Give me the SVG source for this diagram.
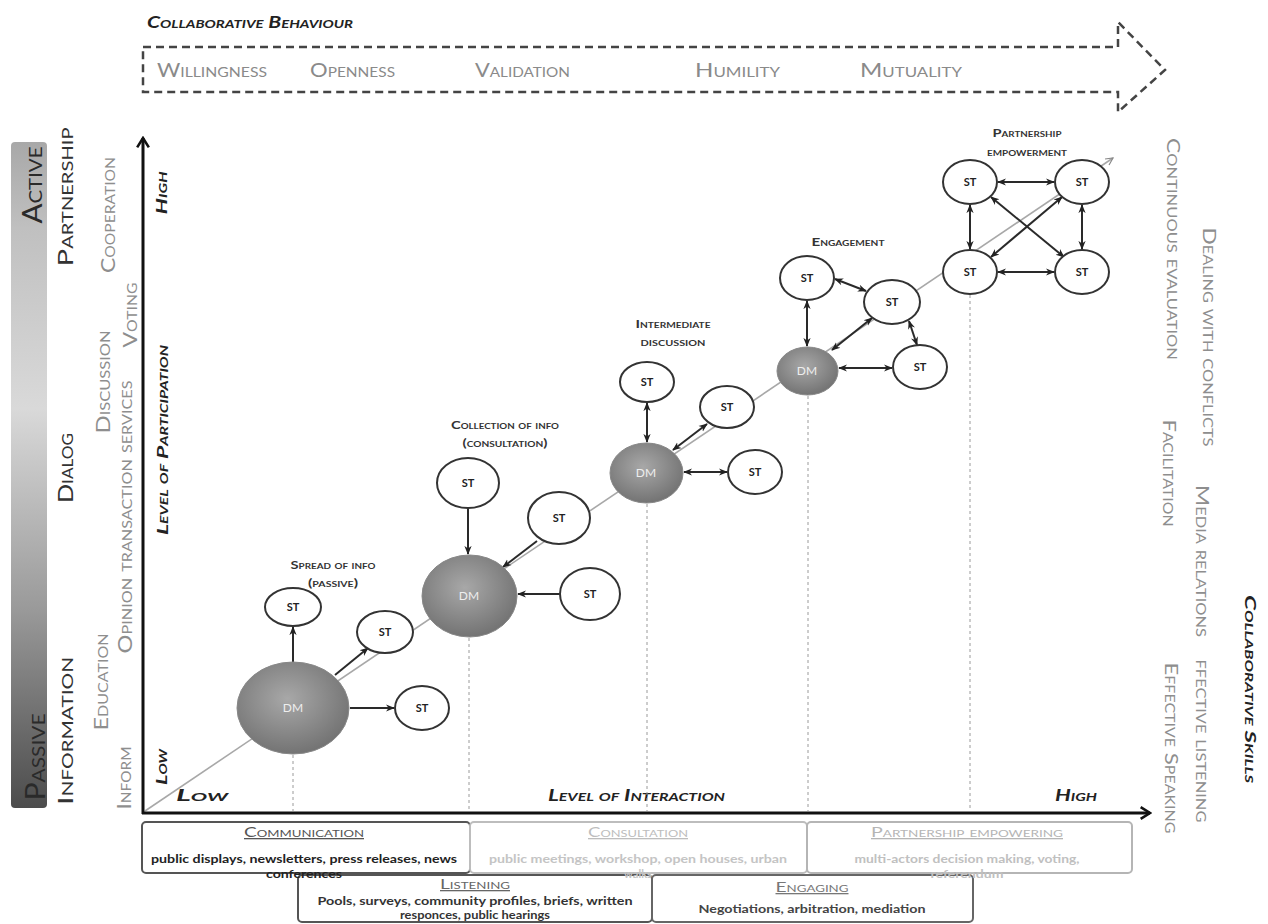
<svg xmlns="http://www.w3.org/2000/svg" width="1268" height="924" viewBox="0 0 1268 924">
<style>
text { font-family: Lato, 'Liberation Sans', sans-serif; }
.sc { font-variant: small-caps; }
.big { font-size: 26px; fill: #2a2a2a; }
.lvl { font-size: 22px; fill: #333; }
.g1 { font-size: 19px; fill: #8e8e8e; }
.rs { font-size: 18px; fill: #8e8e8e; }
.bi { font-weight: bold; font-style: italic; fill: #222; }
.top { font-size: 20px; fill: #8a8a8a; }
.nl { font-size: 12px; font-weight: bold; fill: #333; }
.st { font-size: 11px; font-weight: bold; fill: #222; }
.dm { font-size: 12px; fill: #eeeeee; }
.stn { fill: #fff; stroke: #333; stroke-width: 2; }
.dmn { fill: url(#dmg); stroke: #888; stroke-width: 1; }
.c { stroke: #2a2a2a; stroke-width: 2; fill: none; }
.cs { marker-end: url(#ah); }
.cd { marker-start: url(#ah); marker-end: url(#ah); }
.dot { stroke: #9a9a9a; stroke-width: 1; stroke-dasharray: 3 3; fill: none; }
.bt { font-size: 13px; text-decoration: underline; }
.bb { font-size: 11px; font-weight: bold; }
</style>
<defs>
<linearGradient id="barg" x1="0" y1="0" x2="0" y2="1">
<stop offset="0" stop-color="#a8a8a8"/>
<stop offset="0.13" stop-color="#c0c0c0"/>
<stop offset="0.4" stop-color="#d9d9d9"/>
<stop offset="0.7" stop-color="#9a9a9a"/>
<stop offset="1" stop-color="#4c4c4c"/>
</linearGradient>
<radialGradient id="dmg" cx="0.45" cy="0.4" r="0.65">
<stop offset="0" stop-color="#a8a8a8"/>
<stop offset="1" stop-color="#6f6f6f"/>
</radialGradient>
<marker id="ah" viewBox="0 0 10 10" refX="9" refY="5" markerWidth="9" markerHeight="9" markerUnits="userSpaceOnUse" orient="auto-start-reverse">
<path d="M0,1 L10,5 L0,9 L3,5 z" fill="#222"/>
</marker>
<marker id="ax" viewBox="0 0 12 12" refX="10" refY="6" markerWidth="14" markerHeight="14" markerUnits="userSpaceOnUse" orient="auto">
<path d="M2,1 L10,6 L2,11" fill="none" stroke="#111" stroke-width="2.2"/>
</marker>
<marker id="dg" viewBox="0 0 10 10" refX="9" refY="5" markerWidth="9" markerHeight="9" markerUnits="userSpaceOnUse" orient="auto">
<path d="M1,1 L9,5 L1,9" fill="none" stroke="#888" stroke-width="1.3"/>
</marker>
</defs>

<rect width="1268" height="924" fill="#fff"/>

<!-- Collaborative behaviour arrow -->
<g id="behaviour">
<text x="147" y="28" class="bi sc" font-size="17" textLength="206" lengthAdjust="spacingAndGlyphs">Collaborative Behaviour</text>
<path d="M143,47 L1118,47 L1118,22 L1165,70 L1118,112 L1118,92 L143,92 Z" fill="none" stroke="#444" stroke-width="2.5" stroke-dasharray="8 5"/>
<text x="157" y="77" class="top sc" textLength="110" lengthAdjust="spacingAndGlyphs">Willingness</text>
<text x="310" y="77" class="top sc" textLength="85" lengthAdjust="spacingAndGlyphs">Openness</text>
<text x="475" y="77" class="top sc" textLength="95" lengthAdjust="spacingAndGlyphs">Validation</text>
<text x="695" y="77" class="top sc" textLength="85" lengthAdjust="spacingAndGlyphs">Humility</text>
<text x="860" y="77" class="top sc" textLength="102" lengthAdjust="spacingAndGlyphs">Mutuality</text>
</g>

<!-- Left side -->
<g id="left-bar">
<rect x="11" y="142" width="36" height="666" rx="4" fill="url(#barg)"/>
<text transform="translate(42,185) rotate(-90)" text-anchor="middle" class="big sc" textLength="77" lengthAdjust="spacingAndGlyphs">Active</text>
<text transform="translate(45,757) rotate(-90)" text-anchor="middle" class="big sc" textLength="87" lengthAdjust="spacingAndGlyphs">Passive</text>
</g>
<g id="left-levels">
<text transform="translate(73,197) rotate(-90)" text-anchor="middle" class="lvl sc" textLength="139" lengthAdjust="spacingAndGlyphs">Partnership</text>
<text transform="translate(73,468) rotate(-90)" text-anchor="middle" class="lvl sc" textLength="70" lengthAdjust="spacingAndGlyphs">Dialog</text>
<text transform="translate(73,731) rotate(-90)" text-anchor="middle" class="lvl sc" textLength="148" lengthAdjust="spacingAndGlyphs">Information</text>
</g>
<g id="left-activities">
<text transform="translate(115,215) rotate(-90)" text-anchor="middle" class="g1 sc" textLength="116" lengthAdjust="spacingAndGlyphs">Cooperation</text>
<text transform="translate(137,315) rotate(-90)" text-anchor="middle" class="g1 sc" textLength="65" lengthAdjust="spacingAndGlyphs">Voting</text>
<text transform="translate(110,382) rotate(-90)" text-anchor="middle" class="g1 sc" textLength="103" lengthAdjust="spacingAndGlyphs">Discussion</text>
<text transform="translate(132,517) rotate(-90)" text-anchor="middle" class="g1 sc" textLength="273" lengthAdjust="spacingAndGlyphs">Opinion transaction services</text>
<text transform="translate(108,682) rotate(-90)" text-anchor="middle" class="g1 sc" textLength="97" lengthAdjust="spacingAndGlyphs">Education</text>
<text transform="translate(131,778) rotate(-90)" text-anchor="middle" class="g1 sc" textLength="63" lengthAdjust="spacingAndGlyphs">Inform</text>
</g>

<!-- Axes -->
<g id="axes">
<line x1="145" y1="811" x2="1113" y2="158" stroke="#a8a8a8" stroke-width="1.6" marker-end="url(#dg)"/>
<line x1="143" y1="814" x2="143" y2="138" stroke="#111" stroke-width="3" marker-end="url(#ax)"/>
<line x1="142" y1="813" x2="1150" y2="813" stroke="#111" stroke-width="3" marker-end="url(#ax)"/>
<text transform="translate(167,193) rotate(-90)" text-anchor="middle" class="bi sc" font-size="16" textLength="43" lengthAdjust="spacingAndGlyphs">High</text>
<text transform="translate(168,440) rotate(-90)" text-anchor="middle" class="bi sc" font-size="16" textLength="190" lengthAdjust="spacingAndGlyphs">Level of Participation</text>
<text transform="translate(167,767) rotate(-90)" text-anchor="middle" class="bi sc" font-size="16" textLength="36" lengthAdjust="spacingAndGlyphs">Low</text>
<text x="176" y="801" class="bi sc" font-size="17" textLength="52" lengthAdjust="spacingAndGlyphs">Low</text>
<text x="548" y="801" class="bi sc" font-size="17" textLength="177" lengthAdjust="spacingAndGlyphs">Level of Interaction</text>
<text x="1055" y="801" class="bi sc" font-size="17" textLength="42" lengthAdjust="spacingAndGlyphs">High</text>
</g>

<!-- dotted guides -->
<g id="guides">
<line class="dot" x1="293" y1="755" x2="293" y2="811"/>
<line class="dot" x1="469" y1="638" x2="469" y2="811"/>
<line class="dot" x1="647" y1="504" x2="647" y2="811"/>
<line class="dot" x1="808" y1="396" x2="808" y2="811"/>
<line class="dot" x1="970" y1="295" x2="970" y2="811"/>
</g>

<!-- Connectors -->
<g id="connectors">
<line class="c cs" x1="293" y1="662" x2="293" y2="627"/>
<line class="c cs" x1="335" y1="675" x2="368" y2="648"/>
<line class="c cs" x1="350" y1="708" x2="394" y2="708"/>
<line class="c cs" x1="468" y1="508" x2="468" y2="554"/>
<line class="c cs" x1="537" y1="541" x2="503" y2="567"/>
<line class="c cs" x1="560" y1="594" x2="518" y2="594"/>
<line class="c cd" x1="647" y1="403" x2="647" y2="442"/>
<line class="c cd" x1="673" y1="450" x2="707" y2="424"/>
<line class="c cd" x1="684" y1="472" x2="727" y2="472"/>
<line class="c cd" x1="807" y1="301" x2="807" y2="346"/>
<line class="c cd" x1="832" y1="350" x2="872" y2="318"/>
<line class="c cd" x1="839" y1="368" x2="892" y2="368"/>
<line class="c cd" x1="835" y1="279" x2="866" y2="291"/>
<line class="c cd" x1="909" y1="321" x2="917" y2="345"/>
<line class="c cd" x1="998" y1="182" x2="1054" y2="182"/>
<line class="c cd" x1="998" y1="272" x2="1054" y2="272"/>
<line class="c cd" x1="970" y1="205" x2="970" y2="249"/>
<line class="c cd" x1="1082" y1="205" x2="1082" y2="249"/>
<line class="c cd" x1="991" y1="197" x2="1064" y2="257"/>
<line class="c cd" x1="1062" y1="197" x2="991" y2="257"/>
</g>

<!-- Stage 1 -->
<g id="dm1"><ellipse class="dmn" cx="293" cy="708" rx="56" ry="46"/><text class="dm" x="293" y="712" text-anchor="middle">DM</text></g>
<g id="st1a"><ellipse class="stn" cx="293" cy="607" rx="28" ry="19"/><text class="st" x="293" y="611" text-anchor="middle">ST</text></g>
<g id="st1b"><ellipse class="stn" cx="385" cy="632" rx="28" ry="21"/><text class="st" x="385" y="636" text-anchor="middle">ST</text></g>
<g id="st1c"><ellipse class="stn" cx="422" cy="708" rx="27" ry="22"/><text class="st" x="422" y="712" text-anchor="middle">ST</text></g>
<g id="label1"><text class="nl sc" x="333" y="569" text-anchor="middle" textLength="85" lengthAdjust="spacingAndGlyphs">Spread of info</text><text class="nl sc" x="333" y="587" text-anchor="middle" textLength="50" lengthAdjust="spacingAndGlyphs">(passive)</text></g>

<!-- Stage 2 -->
<g id="dm2"><ellipse class="dmn" cx="469.5" cy="596" rx="47.5" ry="41"/><text class="dm" x="469" y="600" text-anchor="middle">DM</text></g>
<g id="st2a"><ellipse class="stn" cx="468" cy="483" rx="31" ry="25"/><text class="st" x="468" y="487" text-anchor="middle">ST</text></g>
<g id="st2b"><ellipse class="stn" cx="559" cy="518" rx="31" ry="26"/><text class="st" x="559" y="522" text-anchor="middle">ST</text></g>
<g id="st2c"><ellipse class="stn" cx="590" cy="594" rx="30" ry="26"/><text class="st" x="590" y="598" text-anchor="middle">ST</text></g>
<g id="label2"><text class="nl sc" x="505" y="429" text-anchor="middle" textLength="108" lengthAdjust="spacingAndGlyphs">Collection of info</text><text class="nl sc" x="505" y="447" text-anchor="middle" textLength="85" lengthAdjust="spacingAndGlyphs">(consultation)</text></g>

<!-- Stage 3 -->
<g id="dm3"><ellipse class="dmn" cx="646.5" cy="473" rx="36.5" ry="30"/><text class="dm" x="646" y="477" text-anchor="middle">DM</text></g>
<g id="st3a"><ellipse class="stn" cx="647" cy="382" rx="27" ry="20"/><text class="st" x="647" y="386" text-anchor="middle">ST</text></g>
<g id="st3b"><ellipse class="stn" cx="727" cy="407" rx="27" ry="21"/><text class="st" x="727" y="411" text-anchor="middle">ST</text></g>
<g id="st3c"><ellipse class="stn" cx="755" cy="472" rx="27" ry="22"/><text class="st" x="755" y="476" text-anchor="middle">ST</text></g>
<g id="label3"><text class="nl sc" x="673" y="328" text-anchor="middle" textLength="75" lengthAdjust="spacingAndGlyphs">Intermediate</text><text class="nl sc" x="673" y="346" text-anchor="middle" textLength="65" lengthAdjust="spacingAndGlyphs">discussion</text></g>

<!-- Stage 4 -->
<g id="dm4"><ellipse class="dmn" cx="807.5" cy="371" rx="30.5" ry="24"/><text class="dm" x="807" y="375" text-anchor="middle">DM</text></g>
<g id="st4a"><ellipse class="stn" cx="807" cy="278" rx="27" ry="22"/><text class="st" x="807" y="282" text-anchor="middle">ST</text></g>
<g id="st4b"><ellipse class="stn" cx="892" cy="302" rx="28" ry="22"/><text class="st" x="892" y="306" text-anchor="middle">ST</text></g>
<g id="st4c"><ellipse class="stn" cx="920" cy="367" rx="27" ry="22"/><text class="st" x="920" y="371" text-anchor="middle">ST</text></g>
<g id="label4"><text class="nl sc" x="848" y="246" text-anchor="middle" textLength="73" lengthAdjust="spacingAndGlyphs">Engagement</text></g>

<!-- Stage 5 -->
<g id="p1"><ellipse class="stn" cx="970" cy="182" rx="27" ry="22"/><text class="st" x="970" y="186" text-anchor="middle">ST</text></g>
<g id="p2"><ellipse class="stn" cx="1082" cy="182" rx="27" ry="22"/><text class="st" x="1082" y="186" text-anchor="middle">ST</text></g>
<g id="p3"><ellipse class="stn" cx="970" cy="272" rx="27" ry="22"/><text class="st" x="970" y="276" text-anchor="middle">ST</text></g>
<g id="p4"><ellipse class="stn" cx="1082" cy="272" rx="27" ry="22"/><text class="st" x="1082" y="276" text-anchor="middle">ST</text></g>
<g id="label5"><text class="nl sc" x="1027" y="137" text-anchor="middle" textLength="69" lengthAdjust="spacingAndGlyphs">Partnership</text><text class="nl sc" x="1027" y="156" text-anchor="middle" textLength="80" lengthAdjust="spacingAndGlyphs">empowerment</text></g>

<!-- Right side skills -->
<g id="skills">
<text transform="translate(1167,249) rotate(90)" text-anchor="middle" class="rs sc" textLength="222" lengthAdjust="spacingAndGlyphs">Continuous evaluation</text>
<text transform="translate(1163,473) rotate(90)" text-anchor="middle" class="rs sc" textLength="107" lengthAdjust="spacingAndGlyphs">Facilitation</text>
<text transform="translate(1165,748) rotate(90)" text-anchor="middle" class="rs sc" textLength="171" lengthAdjust="spacingAndGlyphs">Effective Speaking</text>
<text transform="translate(1203,337) rotate(90)" text-anchor="middle" class="rs sc" textLength="219" lengthAdjust="spacingAndGlyphs">Dealing with conflicts</text>
<text transform="translate(1196,561) rotate(90)" text-anchor="middle" class="rs sc" textLength="152" lengthAdjust="spacingAndGlyphs">Media relations</text>
<text transform="translate(1196,741) rotate(90)" text-anchor="middle" class="rs sc" textLength="163" lengthAdjust="spacingAndGlyphs">ffective listening</text>
<text transform="translate(1245,689) rotate(90)" text-anchor="middle" class="bi sc" font-size="16" textLength="188" lengthAdjust="spacingAndGlyphs">Collaborative Skills</text>
</g>

<!-- Bottom boxes -->
<g id="communication">
<rect x="142" y="822" width="328" height="51" rx="4" fill="#fff" stroke="#555" stroke-width="2"/>
<text class="bt sc" x="304" y="837" text-anchor="middle" fill="#555" textLength="120" lengthAdjust="spacingAndGlyphs">Communication</text>
<text class="bb" x="304" y="863" text-anchor="middle" fill="#222" textLength="306" lengthAdjust="spacingAndGlyphs">public displays, newsletters, press releases, news</text>
</g>
<g id="consultation">
<rect x="470" y="822" width="337" height="51" rx="4" fill="#fff" stroke="#bdbdbd" stroke-width="2"/>
<text class="bt sc" x="638" y="837" text-anchor="middle" fill="#bdbdbd" textLength="100" lengthAdjust="spacingAndGlyphs">Consultation</text>
<text class="bb" x="638" y="863" text-anchor="middle" fill="#c4c4c4" textLength="298" lengthAdjust="spacingAndGlyphs">public meetings, workshop, open houses, urban</text>
</g>
<g id="partnership-empowering">
<rect x="807" y="822" width="325" height="51" rx="4" fill="#fff" stroke="#b5b5b5" stroke-width="2"/>
<text class="bt sc" x="967" y="837" text-anchor="middle" fill="#b5b5b5" textLength="192" lengthAdjust="spacingAndGlyphs">Partnership empowering</text>
<text class="bb" x="967" y="863" text-anchor="middle" fill="#c0c0c0" textLength="225" lengthAdjust="spacingAndGlyphs">multi-actors decision making, voting,</text>
</g>
<g id="listening">
<rect x="298" y="875" width="354" height="47" rx="4" fill="#fff" stroke="#555" stroke-width="2"/>
<text class="bt sc" x="475" y="889" text-anchor="middle" fill="#666" textLength="70" lengthAdjust="spacingAndGlyphs">Listening</text>
<text class="bb" x="475" y="905" text-anchor="middle" fill="#333" textLength="315" lengthAdjust="spacingAndGlyphs">Pools, surveys, community profiles, briefs, written</text>
<text class="bb" x="475" y="919" text-anchor="middle" fill="#333" textLength="150" lengthAdjust="spacingAndGlyphs">responces, public hearings</text>
</g>
<g id="engaging">
<rect x="652" y="875" width="321" height="47" rx="4" fill="#fff" stroke="#666" stroke-width="2"/>
<text class="bt sc" x="812" y="892" text-anchor="middle" fill="#777" textLength="73" lengthAdjust="spacingAndGlyphs">Engaging</text>
<text class="bb" x="812" y="913" text-anchor="middle" fill="#444" textLength="227" lengthAdjust="spacingAndGlyphs">Negotiations, arbitration, mediation</text>
</g>
<g id="overflow-lines">
<text class="bb" x="304" y="878" text-anchor="middle" fill="#222" textLength="76" lengthAdjust="spacingAndGlyphs">conferences</text>
<text class="bb" x="638" y="878" text-anchor="middle" fill="#c4c4c4">walks</text>
<text class="bb" x="967" y="878" text-anchor="middle" fill="#c0c0c0" textLength="73" lengthAdjust="spacingAndGlyphs">referendum</text>
</g>
</svg>
